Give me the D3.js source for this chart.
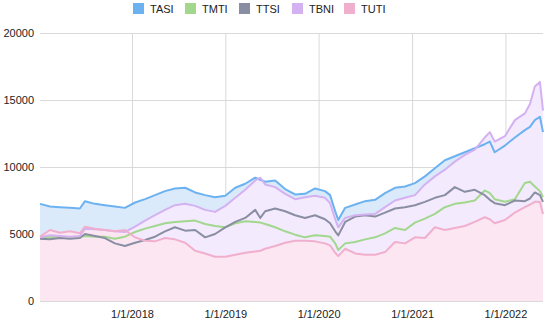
<!DOCTYPE html>
<html>
<head>
<meta charset="utf-8">
<script src="https://cdn.jsdelivr.net/npm/d3@7"></script>
<style>
  body { margin: 0; background: #fff; }
  svg { font-family: "Liberation Sans", Arial, sans-serif; }
  .grid line { stroke: #d9d9d9; stroke-width: 1; }
  .tick text { font-size: 11px; fill: #222; }
</style>
</head>
<body>
<div id="chart"></div>
<script>
// sample dates
var dates = ["2017-01-06","2017-02-14","2017-03-25","2017-05-03","2017-06-11","2017-07-01","2017-08-09",
  "2017-09-17","2017-10-26","2017-12-04","2018-01-13","2018-02-21","2018-04-01","2018-05-10","2018-06-18",
  "2018-07-28","2018-09-05","2018-10-14","2018-11-22","2019-01-01","2019-02-09","2019-03-20","2019-04-28",
  "2019-05-18","2019-06-06","2019-07-15","2019-08-23","2019-10-01","2019-11-09","2019-12-18","2020-01-26",
  "2020-02-15","2020-03-06","2020-03-18","2020-04-14","2020-05-23","2020-07-01","2020-08-09","2020-09-17",
  "2020-10-26","2020-12-04","2021-01-12","2021-02-20","2021-03-31","2021-05-09","2021-06-17","2021-07-26",
  "2021-09-03","2021-10-12","2021-11-01","2021-11-20","2021-12-30","2022-02-07","2022-03-18","2022-04-07",
  "2022-04-26","2022-05-16","2022-05-28"];

var tasi = [7250,7050,7000,6950,6900,7450,7250,7150,7050,6950,7350,7600,7900,8200,8400,8450,8100,7900,7750,
  7850,8450,8750,9200,9050,8900,9000,8350,7950,8000,8400,8200,7900,6700,6050,6950,7200,7450,7550,8050,8450,
  8550,8800,9300,9900,10500,10800,11100,11400,11700,11900,11100,11600,12200,12750,13000,13500,13750,12600];
var tmti = [4700,4750,4800,4750,4800,4850,4800,4800,4650,4800,5150,5400,5600,5800,5900,5950,6000,5750,5600,
  5500,5800,5950,5900,5850,5750,5500,5200,4950,4750,4900,4850,4800,4300,3800,4300,4400,4600,4750,5050,5450,
  5300,5850,6150,6500,7000,7250,7350,7500,8250,8050,7600,7400,7600,8800,8900,8550,8200,7750];
var ttsi = [4650,4600,4700,4650,4700,5000,4850,4700,4300,4100,4350,4550,4800,5200,5500,5250,5300,4750,5000,
  5500,5900,6200,6800,6200,6700,6900,6700,6400,6200,6400,6100,5800,5200,4900,5900,6300,6400,6300,6600,6900,
  7000,7150,7400,7700,7900,8500,8150,8300,7900,7550,7300,7150,7500,7450,7650,8100,7900,7400];
var tbni = [4750,4900,4850,4800,4850,5400,5350,5300,5200,5150,5550,6000,6400,6800,7150,7250,7100,6800,6650,
  7100,7700,8300,9000,9200,8700,8500,8000,7600,7750,7850,7700,7300,6100,5500,6200,6400,6450,6500,7000,7500,
  7700,7900,8700,9300,9800,10400,10900,11300,12200,12600,11900,12300,13500,14000,14700,16000,16350,14200];
var tuti = [4800,5300,5100,5200,5050,5550,5400,5300,5200,5300,4750,4500,4450,4700,4600,4350,3750,3550,3300,
  3300,3450,3600,3700,3750,3900,4100,4350,4500,4500,4450,4300,4150,3600,3350,3900,3550,3450,3450,3650,4400,
  4300,4750,4700,5500,5300,5450,5600,5900,6250,6100,5800,6050,6600,7000,7200,7400,7400,6500];

var names = ["TASI", "TMTI", "TTSI", "TBNI", "TUTI"];
var lineColors = ["#6cb2f0", "#a2d78e", "#8a8ea3", "#d4b1f0", "#f1afce"];
var fillColors = ["#dbeafb", "#e6f3e1", "#e8e9ee", "#f4eafd", "#fce6f1"];
var yTicks = [0, 5000, 10000, 15000, 20000];
var xTicks = ["2018-01-01", "2019-01-01", "2020-01-01", "2021-01-01", "2022-01-01"];

var W = 550, H = 324;
var margin = { top: 33, right: 7, bottom: 23, left: 40 };
var parse = d3.timeParse("%Y-%m-%d");
var seriesValues = [tasi, tmti, ttsi, tbni, tuti];
var series = names.map(function(n, i) {
  return {
    name: n,
    line: lineColors[i],
    fill: fillColors[i],
    values: dates.map(function(d, j) { return { date: parse(d), value: seriesValues[i][j] }; })
  };
});

var svg = d3.select("#chart").append("svg")
  .attr("width", W)
  .attr("height", H);

var x = d3.scaleTime()
  .domain([parse(dates[0]), parse(dates[dates.length - 1])])
  .range([margin.left, W - margin.right]);
var y = d3.scaleLinear()
  .domain([0, 20000])
  .range([H - margin.bottom, margin.top]);

// grid + axes
svg.append("g")
  .attr("class", "grid")
  .attr("transform", "translate(" + margin.left + ",0)")
  .call(d3.axisLeft(y).tickValues(yTicks).tickFormat(d3.format("d"))
    .tickSize(-(W - margin.left - margin.right)).tickPadding(6))
  .call(function(g) { g.select(".domain").remove(); });

svg.append("g")
  .attr("class", "grid")
  .attr("transform", "translate(0," + (H - margin.bottom) + ")")
  .call(d3.axisBottom(x).tickValues(xTicks.map(parse))
    .tickFormat(d3.timeFormat("%-m/%-d/%Y"))
    .tickSize(-(H - margin.top - margin.bottom)).tickPadding(9))
  .call(function(g) { g.select(".domain").remove(); });

var area = d3.area()
  .x(function(d) { return x(d.date); })
  .y0(y(0))
  .y1(function(d) { return y(d.value); });
var line = d3.line()
  .x(function(d) { return x(d.date); })
  .y(function(d) { return y(d.value); });

svg.append("g").selectAll("path")
  .data(series)
  .enter().append("path")
    .attr("d", function(s) { return area(s.values); })
    .style("fill", function(s) { return s.fill; });

svg.append("g").selectAll("path")
  .data(series)
  .enter().append("path")
    .attr("d", function(s) { return line(s.values); })
    .style("fill", "none")
    .style("stroke", function(s) { return s.line; })
    .style("stroke-width", 2)
    .style("stroke-linejoin", "round");

// legend
var legendX = [133, 185, 239, 292, 344];
var legend = svg.append("g").selectAll("g")
  .data(series)
  .enter().append("g")
    .attr("transform", function(s, i) { return "translate(" + legendX[i] + ",3)"; });
legend.append("rect")
  .attr("width", 11).attr("height", 11)
  .style("fill", function(s) { return s.line; });
legend.append("text")
  .attr("x", 17).attr("y", 10)
  .style("font-size", "11px")
  .style("fill", "#222")
  .text(function(s) { return s.name; });
</script>
</body>
</html>
